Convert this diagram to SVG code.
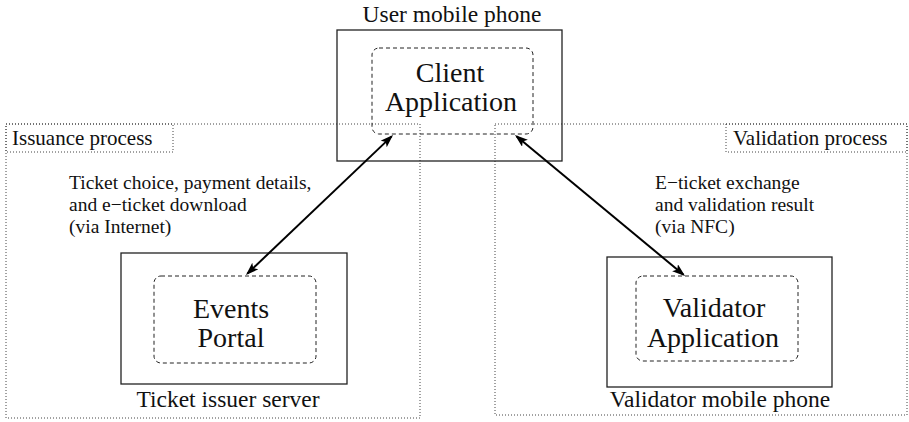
<svg xmlns="http://www.w3.org/2000/svg" width="909" height="422" viewBox="0 0 909 422">
<style>
text{font-family:"Liberation Serif","Times New Roman",serif;fill:#111}
.region{fill:none;stroke:#444;stroke-width:1;stroke-dasharray:1 2}
.outer{fill:none;stroke:#222;stroke-width:1.3}
.inner{fill:none;stroke:#222;stroke-width:1;stroke-dasharray:4 3}
.big{font-size:28px;text-anchor:middle}
.cap{font-size:23.5px;text-anchor:middle}
.proc{font-size:21px}
.lbl{font-size:19.5px}
.conn{stroke:#000;stroke-width:2;fill:none;marker-start:url(#ah);marker-end:url(#ah)}
</style>
<defs>
<marker id="ah" markerUnits="userSpaceOnUse" markerWidth="14" markerHeight="10" refX="11" refY="4.5" orient="auto-start-reverse">
<path d="M0,0 L13,4.5 L0,9 L3,4.5 z" fill="#000"/>
</marker>
</defs>
<rect width="909" height="422" fill="#fff"/>
<g id="issuance-process">
<rect class="region" x="6" y="124" width="414" height="294"/>
<rect class="region" x="6" y="124" width="167" height="28"/>
<text class="proc" x="12" y="145">Issuance process</text>
</g>
<g id="validation-process">
<rect class="region" x="495" y="124" width="412" height="291"/>
<rect class="region" x="726" y="124" width="181" height="28"/>
<text class="proc" x="733" y="145">Validation process</text>
</g>
<g id="user-mobile-phone">
<text class="cap" x="452" y="22">User mobile phone</text>
<rect class="outer" x="337" y="30" width="225" height="131"/>
<g id="client-application">
<rect class="inner" x="372" y="48" width="161" height="86" rx="7"/>
<text class="big" x="450" y="82">Client</text>
<text class="big" x="451" y="111">Application</text>
</g>
</g>
<g id="ticket-issuer-server">
<rect class="outer" x="121" y="253" width="226" height="131"/>
<g id="events-portal">
<rect class="inner" x="154" y="276" width="162" height="87" rx="7"/>
<text class="big" x="231" y="318">Events</text>
<text class="big" x="231" y="347">Portal</text>
</g>
<text class="cap" x="228" y="407">Ticket issuer server</text>
</g>
<g id="validator-mobile-phone">
<rect class="outer" x="607" y="257" width="225" height="130"/>
<g id="validator-application">
<rect class="inner" x="636" y="276" width="162" height="85" rx="7"/>
<text class="big" x="714" y="317">Validator</text>
<text class="big" x="713" y="347">Application</text>
</g>
<text class="cap" x="720" y="407">Validator mobile phone</text>
</g>
<g id="connectors">
<line class="conn" x1="391.6" y1="136.4" x2="247.4" y2="273.6"/>
<line class="conn" x1="516.5" y1="136.3" x2="683.5" y2="274.7"/>
<text class="lbl" x="69" y="189">Ticket choice, payment details,</text>
<text class="lbl" x="69" y="211">and e−ticket download</text>
<text class="lbl" x="69" y="233">(via Internet)</text>
<text class="lbl" x="655" y="189">E−ticket exchange</text>
<text class="lbl" x="655" y="211">and validation result</text>
<text class="lbl" x="655" y="233">(via NFC)</text>
</g>
</svg>
